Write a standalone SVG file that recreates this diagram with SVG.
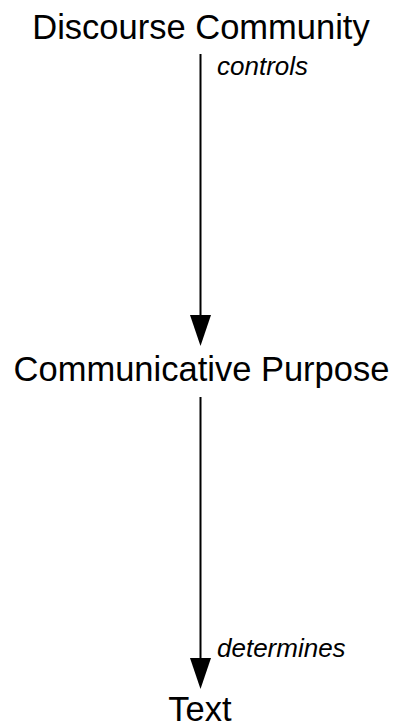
<svg xmlns="http://www.w3.org/2000/svg" width="394" height="728" viewBox="0 0 394 728">
<style>
.node{font-family:"Liberation Sans",Arial,sans-serif;font-size:34.5px;fill:#000;text-anchor:middle}
.lbl{font-family:"Liberation Sans",Arial,sans-serif;font-size:26px;font-style:italic;fill:#000}
.edge{stroke:#000;stroke-width:2;fill:none}
.head{fill:#000;stroke:none}
</style>
<rect width="394" height="728" fill="#fff"/>
<g id="connectors">
<line class="edge" x1="200.5" y1="54" x2="200.5" y2="316"/>
<polygon class="head" points="190,315 211,315 200.5,346"/>
<text class="lbl" x="217" y="75">controls</text>
<line class="edge" x1="200.5" y1="397" x2="200.5" y2="659"/>
<polygon class="head" points="190,658 211,658 200.5,689"/>
<text class="lbl" x="217" y="657">determines</text>
</g>
<g id="discourse-community"><text class="node" x="201" y="39">Discourse Community</text></g>
<g id="communicative-purpose"><text class="node" x="201.5" y="381">Communicative Purpose</text></g>
<g id="text"><text class="node" x="200" y="721">Text</text></g>
</svg>
